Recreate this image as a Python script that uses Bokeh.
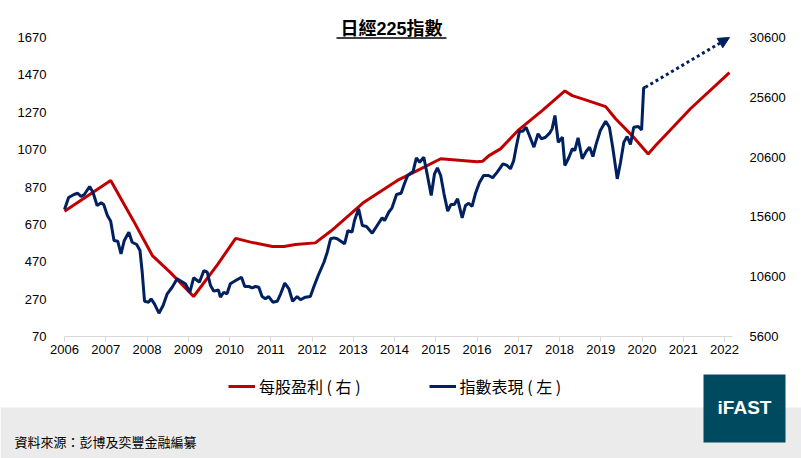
from bokeh.plotting import figure
from bokeh.models import (LinearAxis, Range1d, FixedTicker, Legend, LegendItem,
                          Arrow, NormalHead)
from bokeh.core.properties import value
from bokeh.embed import file_html
from bokeh.resources import INLINE

# data
title_text = "日經225指數"
source_text = "資料來源：彭博及奕豐金融編纂"
eps_label = "每股盈利 ( 右 )"
index_label = "指數表現 ( 左 )"

year_ticks = list(range(2006, 2023))
left_ticks = [70, 270, 470, 670, 870, 1070, 1270, 1470, 1670]
right_ticks = [5600, 10600, 15600, 20600, 25600, 30600]

eps_years = [2006.0, 2007.12, 2007.67, 2008.13, 2008.57, 2009.13, 2009.71, 2010.15,
             2010.51, 2011.04, 2011.32, 2011.6, 2012.08, 2012.45, 2012.57, 2013.26,
             2014.07, 2014.55, 2015.12, 2016.0, 2016.14, 2016.29, 2016.57, 2017.01,
             2017.58, 2018.13, 2018.31, 2018.63, 2019.12, 2019.36, 2019.76, 2020.15,
             2020.33, 2021.18, 2022.12]
eps = [740, 905, 690, 503, 412, 284, 455, 595, 575, 552, 552, 562, 571, 633, 655, 789,
       905, 958, 1021, 1005, 1008, 1038, 1074, 1176, 1279, 1384, 1359, 1336, 1300, 1235,
       1145, 1047, 1092, 1290, 1482]

index_years = [2006.00, 2006.10, 2006.23, 2006.32, 2006.40, 2006.48, 2006.61, 2006.69,
               2006.79, 2006.89, 2006.95, 2007.04, 2007.12, 2007.20, 2007.29, 2007.37,
               2007.45, 2007.56, 2007.64, 2007.75, 2007.83, 2007.88, 2007.94, 2008.04,
               2008.10, 2008.18, 2008.29, 2008.39, 2008.49, 2008.61, 2008.73, 2008.83,
               2008.93, 2009.04, 2009.13, 2009.22, 2009.27, 2009.38, 2009.46, 2009.54,
               2009.62, 2009.73, 2009.78, 2009.86, 2009.94, 2010.02, 2010.15, 2010.29,
               2010.37, 2010.47, 2010.55, 2010.63, 2010.71, 2010.79, 2010.87, 2010.95,
               2011.05, 2011.16, 2011.24, 2011.34, 2011.44, 2011.53, 2011.64, 2011.72,
               2011.84, 2011.96, 2012.04, 2012.15, 2012.29, 2012.37, 2012.45, 2012.53,
               2012.61, 2012.79, 2012.87, 2012.97, 2013.03, 2013.13, 2013.22, 2013.32,
               2013.46, 2013.58, 2013.70, 2013.76, 2013.86, 2013.94, 2014.05, 2014.16,
               2014.24, 2014.32, 2014.45, 2014.53, 2014.61, 2014.71, 2014.79, 2014.89,
               2014.97, 2015.04, 2015.12, 2015.20, 2015.29, 2015.37, 2015.45, 2015.53,
               2015.64, 2015.72, 2015.80, 2015.88, 2015.96, 2016.06, 2016.16, 2016.28,
               2016.38, 2016.49, 2016.63, 2016.73, 2016.81, 2016.89, 2016.95, 2017.03,
               2017.11, 2017.19, 2017.27, 2017.38, 2017.48, 2017.56, 2017.66, 2017.76,
               2017.82, 2017.89, 2017.97, 2018.07, 2018.13, 2018.23, 2018.31, 2018.37,
               2018.45, 2018.55, 2018.65, 2018.73, 2018.81, 2018.89, 2018.99, 2019.12,
               2019.21, 2019.29, 2019.40, 2019.48, 2019.56, 2019.64, 2019.72, 2019.80,
               2019.91, 2019.99, 2020.04, 2020.08]
index_values = [16220, 17220, 17470, 17580, 17300, 17470, 18140, 17660, 16550, 16780,
                16640, 15720, 15240, 13630, 13570, 12510, 13630, 14320, 13480, 13290,
                12790, 11120, 8550, 8470, 8750, 8330, 7550, 8190, 9170, 9720, 10420,
                10220, 10010, 9300, 10510, 10280, 10140, 11120, 10980, 9860, 9390, 9500,
                8890, 9300, 9170, 10010, 10280, 10560, 9780, 9780, 9670, 9780, 9720,
                8940, 8750, 8940, 8470, 8550, 9170, 10060, 9590, 8550, 8940, 8670, 8890,
                8940, 9720, 10700, 11810, 12650, 13770, 13850, 13770, 13350, 14460,
                14320, 15300, 16280, 14880, 14800, 14240, 14880, 15520, 15300, 15990,
                16360, 17470, 17580, 18370, 19060, 19390, 20540, 20170, 20590, 19200,
                17390, 19200, 19700, 19060, 17530, 16080, 16640, 16640, 17110, 15520,
                16550, 16740, 16470, 17530, 18470, 19060, 19060, 18870, 19340, 20040,
                19900, 19620, 20310, 21430, 22760, 22760, 23100, 22400, 21430, 22550,
                22130, 22260, 22600, 22960, 24080, 21840, 22260, 19900, 20590, 21290,
                21150, 22210, 20460, 21090, 21430, 20650, 21710, 22820, 23600, 23100,
                21430, 18780, 20170, 21840, 22320, 21650, 23100, 23160, 22880, 26390,
                26440]
forecast_years = [2020.08, 2022.12]
forecast_values = [26440, 30600]

RED = "#c00000"
NAVY = "#002060"
TEAL = "#004a60"
FONT = "Liberation Sans, Noto Sans CJK TC"
CJK = "Noto Sans CJK TC"

W, H = 801, 458


# picture pixel -> data coordinates
def px_x(px):
    return 2006 + (px - 64) / 41.25


def px_y(py):
    return 70 + (336 - py) * 1600 / 299


def to_right(v):
    return 5600 + (v - 70) * 15.625


y_lo, y_hi = px_y(H), px_y(0)

p = figure(width=W, height=H, output_backend="svg", toolbar_location=None,
           x_axis_type=None, y_axis_type=None,
           x_range=Range1d(px_x(0), px_x(W)), y_range=Range1d(y_lo, y_hi),
           min_border=0, outline_line_color=None)
p.grid.visible = False
p.extra_y_ranges = {"right": Range1d(to_right(y_lo), to_right(y_hi))}

xaxis = LinearAxis(fixed_location=70, ticker=FixedTicker(ticks=year_ticks),
                   bounds=(2006, px_x(732)))
xaxis.axis_line_color = "#d9d9d9"
xaxis.major_tick_line_color = "#d9d9d9"
xaxis.major_tick_in = 0
xaxis.major_tick_out = 5
xaxis.minor_tick_line_color = None
xaxis.major_label_standoff = 3
p.add_layout(xaxis, "below")

laxis = LinearAxis(fixed_location=2006, ticker=FixedTicker(ticks=left_ticks))
raxis = LinearAxis(fixed_location=px_x(732), y_range_name="right",
                   ticker=FixedTicker(ticks=right_ticks))
for ax in (laxis, raxis):
    ax.axis_line_color = None
    ax.major_tick_line_color = None
    ax.minor_tick_line_color = None
laxis.major_label_standoff = 12
raxis.major_label_standoff = 11
p.add_layout(laxis, "left")
p.add_layout(raxis, "right")

for ax in (xaxis, laxis, raxis):
    ax.major_label_text_font = FONT
    ax.major_label_text_font_size = "13px"
    ax.major_label_text_color = "#000000"

# footer band and logo box
p.quad(left=px_x(0), right=px_x(W), bottom=px_y(H), top=px_y(407),
       fill_color="#ebebeb", line_color=None)
p.quad(left=px_x(703), right=px_x(785), bottom=px_y(442), top=px_y(374),
       fill_color=TEAL, line_color=None)
p.text(x=[px_x(744)], y=[px_y(407)], text=["iFAST"], text_color="white",
       text_font=value("Liberation Sans"), text_font_style="bold",
       text_font_size="19px", text_align="center", text_baseline="middle")
p.text(x=[px_x(14)], y=[px_y(441)], text=[source_text], text_color="#000000",
       text_font=value(CJK), text_font_size="13px", text_align="left",
       text_baseline="middle")

# title
p.text(x=[px_x(391)], y=[px_y(28)], text=[title_text], text_color="#000000",
       text_font=value(FONT), text_font_style="bold", text_font_size="18px",
       text_align="center", text_baseline="middle")
p.segment(x0=[px_x(336)], y0=[px_y(37.5)], x1=[px_x(446)], y1=[px_y(37.5)],
          line_color="#000000", line_width=1.5)

r_eps = p.line(eps_years, eps, line_color=RED, line_width=3)
r_idx = p.line(index_years, index_values, line_color=NAVY, line_width=3,
               y_range_name="right")
p.add_layout(Arrow(x_start=forecast_years[0], y_start=forecast_values[0],
                   x_end=forecast_years[1], y_end=forecast_values[1],
                   y_range_name="right", line_color=NAVY, line_width=3,
                   line_dash="3 3",
                   end=NormalHead(size=11, fill_color=NAVY, line_color=NAVY,
                                  line_width=1)))

legend = Legend(items=[LegendItem(label=eps_label, renderers=[r_eps]),
                       LegendItem(label=index_label, renderers=[r_idx])],
                location=(228, 60), orientation="horizontal",
                glyph_width=27, glyph_height=16, label_standoff=4, spacing=68,
                padding=0, margin=0, border_line_color=None,
                background_fill_alpha=0)
legend.label_text_font = CJK
legend.label_text_font_size = "16px"
legend.label_text_color = "#000000"
p.add_layout(legend)

open("out.html", "w").write(file_html(p, INLINE))
